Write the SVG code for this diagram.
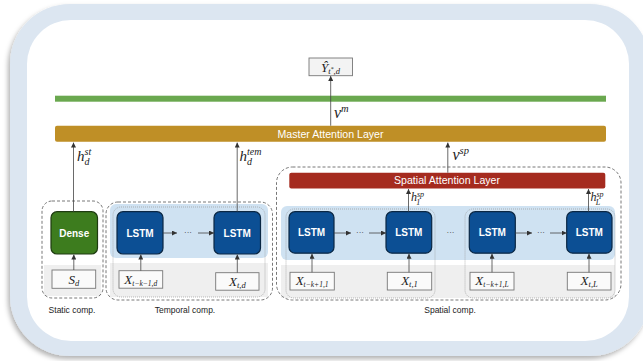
<svg xmlns="http://www.w3.org/2000/svg" width="643" height="361" viewBox="0 0 643 361">
<defs>
<style>
.sans{font-family:"Liberation Sans",Arial,sans-serif}
.lbl{font-family:"Liberation Sans",Arial,sans-serif;font-size:8.5px;fill:#222;text-anchor:middle}
.bar{font-family:"Liberation Sans",Arial,sans-serif;font-size:10.6px;fill:#fff;text-anchor:middle}
.blk{font-family:"Liberation Sans",Arial,sans-serif;font-size:10px;font-weight:bold;fill:#fff;text-anchor:middle}
.m{font-family:"Liberation Serif","Times New Roman",serif;font-style:italic;fill:#222}
.mi{font-family:"Liberation Serif","Times New Roman",serif;font-style:italic;fill:#222;text-anchor:middle;font-size:13px}
.lstm{fill:#0c4f94;stroke:#0a2744;stroke-width:1.2}
.inp{fill:#fafafa;stroke:#777;stroke-width:0.9}
.dash{fill:none;stroke:#555;stroke-width:0.8;stroke-dasharray:3 2}
.dot{fill:none;stroke:#9a9a9a;stroke-width:0.7;stroke-dasharray:1 1}
.band{fill:#cfe2f2}
.gray{fill:#efefef}
.con{stroke:#444;stroke-width:0.8;fill:none}
</style>
<marker id="ah" viewBox="0 0 6 6" refX="6" refY="3" markerWidth="5" markerHeight="5" markerUnits="userSpaceOnUse" orient="auto">
<path d="M0,0 L6,3 L0,6 z" fill="#333"/>
</marker>
<filter id="sh" x="-5%" y="-5%" width="110%" height="115%">
<feDropShadow dx="-2" dy="3" stdDeviation="2.5" flood-color="#000" flood-opacity="0.3"/>
</filter>
</defs>

<!-- frame -->
<g id="frame">
<rect x="10" y="4" width="640" height="352" rx="60" fill="#dce6f1" filter="url(#sh)"/>
<rect x="27" y="20" width="602" height="321" rx="44" fill="#ffffff"/>
</g>

<!-- component backgrounds -->
<g id="static-comp">
<rect x="44" y="265" width="57" height="31" class="gray"/>
<rect x="42" y="201" width="61" height="97" rx="10" class="dash"/>
<text x="72" y="312.5" class="lbl">Static comp.</text>
</g>
<g id="temporal-comp">
<rect x="110" y="204" width="158" height="54" rx="6" class="band"/>
<rect x="110" y="263" width="158" height="34" class="gray"/>
<rect x="113" y="207" width="152" height="90" rx="8" class="dot"/>
<rect x="106" y="202" width="166.5" height="98" rx="12" class="dash"/>
<text x="185" y="312.5" class="lbl">Temporal comp.</text>
</g>
<g id="spatial-comp">
<rect x="281" y="206" width="334" height="54" rx="6" class="band"/>
<rect x="281" y="265" width="334" height="33" class="gray"/>
<rect x="286" y="209" width="149" height="89" rx="8" class="dot"/>
<rect x="465" y="209" width="150" height="89" rx="8" class="dot"/>
<rect x="276.5" y="167" width="344.5" height="133" rx="16" class="dash"/>
<text x="450" y="313" class="lbl">Spatial comp.</text>
</g>

<!-- top layers -->
<g id="output">
<rect x="309" y="58" width="43.5" height="17.7" fill="#f3f3f3" stroke="#777" stroke-width="0.9"/>
<text x="330.5" y="71.5" class="mi">Ŷ<tspan font-size="8.5" dy="2">t</tspan><tspan font-size="6" dy="-3">*</tspan><tspan font-size="8.5" dy="3">,d</tspan></text>
</g>
<g id="green-layer">
<rect x="55" y="95.7" width="551" height="6" fill="#6aa84f"/>
</g>
<g id="master-attention">
<rect x="55" y="125.7" width="551" height="16" rx="2" fill="#bf8f26"/>
<text x="330.5" y="137.5" class="bar">Master Attention Layer</text>
</g>
<g id="spatial-attention">
<rect x="289.3" y="172.7" width="316" height="15.8" rx="2" fill="#a52b1f"/>
<text x="447" y="184.3" class="bar">Spatial Attention Layer</text>
</g>

<!-- blocks -->
<g id="dense">
<rect x="51" y="211.7" width="46.5" height="42.3" rx="6" fill="#3d7c1e" stroke="#1e3b10" stroke-width="1.2"/>
<text x="74.2" y="236.5" class="blk">Dense</text>
</g>
<g id="lstm-t1"><rect x="117" y="211.7" width="46" height="42.3" rx="6" class="lstm"/><text x="140" y="236.5" class="blk">LSTM</text></g>
<g id="lstm-t2"><rect x="214" y="211.7" width="46.5" height="42.3" rx="6" class="lstm"/><text x="237.2" y="236.5" class="blk">LSTM</text></g>
<g id="lstm-s1"><rect x="289" y="211.7" width="45" height="41.5" rx="6" class="lstm"/><text x="311.5" y="236.3" class="blk">LSTM</text></g>
<g id="lstm-s2"><rect x="386" y="211.7" width="45.7" height="41.5" rx="6" class="lstm"/><text x="408.8" y="236.3" class="blk">LSTM</text></g>
<g id="lstm-s3"><rect x="469.3" y="211.7" width="46" height="41.5" rx="6" class="lstm"/><text x="492.3" y="236.3" class="blk">LSTM</text></g>
<g id="lstm-s4"><rect x="566.7" y="211.7" width="45.3" height="41.5" rx="6" class="lstm"/><text x="589.3" y="236.3" class="blk">LSTM</text></g>

<!-- inputs -->
<g id="in-sd"><rect x="52" y="270" width="43.7" height="18.3" class="inp"/><text x="73.8" y="283.5" class="mi">S<tspan font-size="8.5" dy="2">d</tspan></text></g>
<g id="in-t1"><rect x="119" y="270.7" width="43.7" height="17.5" class="inp"/><text x="140.8" y="283.5" class="mi">X<tspan font-size="7.5" dy="2">t−k−1,d</tspan></text></g>
<g id="in-t2"><rect x="215.7" y="272.7" width="43.3" height="17.5" class="inp"/><text x="237.3" y="285.5" class="mi">X<tspan font-size="8.5" dy="2">t,d</tspan></text></g>
<g id="in-s1"><rect x="290" y="272.3" width="44.3" height="17.7" class="inp"/><text x="312.1" y="285.3" class="mi">X<tspan font-size="7.5" dy="2">t−k+1,1</tspan></text></g>
<g id="in-s2"><rect x="387.3" y="272.3" width="44.4" height="17.7" class="inp"/><text x="409.5" y="285.3" class="mi">X<tspan font-size="8.5" dy="2">t,1</tspan></text></g>
<g id="in-s3"><rect x="470" y="272.3" width="44" height="17.7" class="inp"/><text x="492" y="285.3" class="mi">X<tspan font-size="7.5" dy="2">t−k+1,L</tspan></text></g>
<g id="in-s4"><rect x="567.3" y="272.3" width="43.7" height="17.7" class="inp"/><text x="589.2" y="285.3" class="mi">X<tspan font-size="8.5" dy="2">t,L</tspan></text></g>

<!-- connectors -->
<g id="connectors">
<line x1="330.7" y1="125.7" x2="330.7" y2="76" class="con" marker-end="url(#ah)"/>
<line x1="73.5" y1="211.7" x2="73.5" y2="142.5" class="con" marker-end="url(#ah)"/>
<line x1="237.2" y1="211.7" x2="237.2" y2="142.5" class="con" marker-end="url(#ah)"/>
<line x1="447.8" y1="172.7" x2="447.8" y2="142.5" class="con" marker-end="url(#ah)"/>
<line x1="408.5" y1="211.7" x2="408.5" y2="189" class="con" marker-end="url(#ah)"/>
<line x1="588.5" y1="211.7" x2="588.5" y2="189" class="con" marker-end="url(#ah)"/>
<line x1="73.8" y1="270" x2="73.8" y2="254.5" class="con" marker-end="url(#ah)"/>
<line x1="140.8" y1="270.7" x2="140.8" y2="254.5" class="con" marker-end="url(#ah)"/>
<line x1="237.3" y1="272.7" x2="237.3" y2="254.5" class="con" marker-end="url(#ah)"/>
<line x1="312" y1="272.3" x2="312" y2="253.7" class="con" marker-end="url(#ah)"/>
<line x1="409" y1="272.3" x2="409" y2="253.7" class="con" marker-end="url(#ah)"/>
<line x1="492" y1="272.3" x2="492" y2="253.7" class="con" marker-end="url(#ah)"/>
<line x1="589" y1="272.3" x2="589" y2="253.7" class="con" marker-end="url(#ah)"/>
<line x1="163" y1="233" x2="177" y2="233" class="con" marker-end="url(#ah)"/>
<line x1="198" y1="233" x2="214" y2="233" class="con" marker-end="url(#ah)"/>
<line x1="334" y1="233" x2="351" y2="233" class="con" marker-end="url(#ah)"/>
<line x1="369" y1="233" x2="386" y2="233" class="con" marker-end="url(#ah)"/>
<line x1="515.3" y1="233" x2="532" y2="233" class="con" marker-end="url(#ah)"/>
<line x1="550" y1="233" x2="566.7" y2="233" class="con" marker-end="url(#ah)"/>
<text x="188" y="234.5" class="sans" font-size="8" fill="#333" text-anchor="middle">···</text>
<text x="360" y="234.5" class="sans" font-size="8" fill="#333" text-anchor="middle">···</text>
<text x="541" y="234.5" class="sans" font-size="8" fill="#333" text-anchor="middle">···</text>
<text x="450.5" y="235" class="sans" font-size="8" fill="#333" text-anchor="middle">···</text>
</g>

<!-- connector labels -->
<g id="labels">
<text x="77" y="161" class="m" font-size="15">h<tspan font-size="10" dy="-6">st</tspan><tspan font-size="10" dx="-6.7" dy="10">d</tspan></text>
<text x="239.5" y="161" class="m" font-size="15">h<tspan font-size="10" dy="-6">tem</tspan><tspan font-size="10" dx="-14.4" dy="10">d</tspan></text>
<text x="334" y="118" class="m" font-size="16">ν<tspan font-size="10.5" dy="-6">m</tspan></text>
<text x="452.5" y="160" class="m" font-size="16">ν<tspan font-size="10.5" dy="-6">sp</tspan></text>
<text x="411" y="201" class="m" font-size="12">h<tspan font-size="8" dy="-4.5">sp</tspan><tspan font-size="8" dx="-8" dy="8">1</tspan></text>
<text x="590.5" y="201" class="m" font-size="12">h<tspan font-size="8" dy="-4.5">sp</tspan><tspan font-size="8" dx="-8" dy="8">L</tspan></text>
</g>
</svg>
